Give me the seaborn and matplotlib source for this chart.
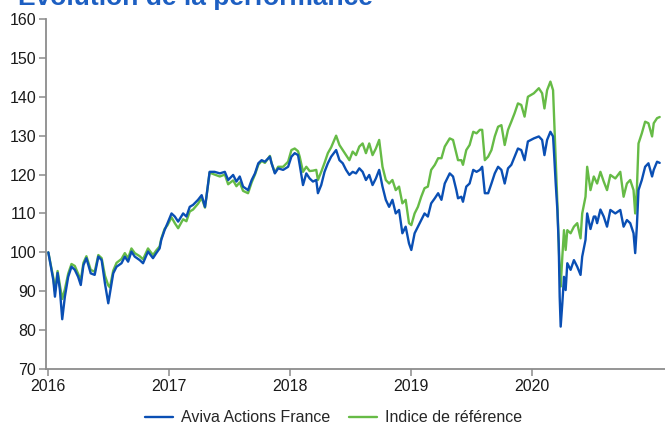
import matplotlib
matplotlib.use("Agg")
import matplotlib.pyplot as plt
import pandas as pd
import seaborn as sns

# ---- data ----
dates = [
    "2016-01-03", "2016-01-18", "2016-01-23", "2016-01-31", "2016-02-07", "2016-02-14", "2016-02-22",
    "2016-03-03", "2016-03-13", "2016-03-23", "2016-04-02", "2016-04-10", "2016-04-18", "2016-04-27",
    "2016-05-10", "2016-05-22", "2016-06-02", "2016-06-12", "2016-06-22", "2016-07-02", "2016-07-07",
    "2016-07-17", "2016-07-27", "2016-08-11", "2016-08-21", "2016-08-31", "2016-09-10", "2016-09-20",
    "2016-10-05", "2016-10-15", "2016-10-30", "2016-11-14", "2016-11-24", "2016-12-04", "2016-12-09",
    "2016-12-19", "2016-12-28",
    "2017-01-09", "2017-01-19", "2017-01-29", "2017-02-13", "2017-02-23", "2017-03-05", "2017-03-15",
    "2017-03-30", "2017-04-10", "2017-04-20", "2017-04-24", "2017-05-04", "2017-05-19", "2017-06-04",
    "2017-06-19", "2017-06-29", "2017-07-14", "2017-07-24", "2017-08-03", "2017-08-13", "2017-08-28",
    "2017-09-08", "2017-09-18", "2017-09-28", "2017-10-08", "2017-10-18", "2017-11-02", "2017-11-07",
    "2017-11-17", "2017-11-27", "2017-12-12", "2017-12-27",
    "2018-01-06", "2018-01-16", "2018-01-26", "2018-01-31", "2018-02-10", "2018-02-20", "2018-03-02",
    "2018-03-12", "2018-03-22", "2018-03-27", "2018-04-06", "2018-04-16", "2018-04-26", "2018-05-06",
    "2018-05-21", "2018-05-31", "2018-06-10", "2018-06-20", "2018-06-30", "2018-07-10", "2018-07-20",
    "2018-07-30", "2018-08-09", "2018-08-19", "2018-08-29", "2018-09-08", "2018-09-18", "2018-09-28",
    "2018-10-08", "2018-10-18", "2018-10-28", "2018-11-07", "2018-11-17", "2018-11-27", "2018-12-07",
    "2018-12-17", "2018-12-27",
    "2019-01-03", "2019-01-13", "2019-01-23", "2019-02-02", "2019-02-12", "2019-02-22", "2019-03-04",
    "2019-03-15", "2019-03-25", "2019-04-04", "2019-04-14", "2019-04-29", "2019-05-09", "2019-05-19",
    "2019-05-24", "2019-06-03", "2019-06-08", "2019-06-18", "2019-06-28", "2019-07-09", "2019-07-19",
    "2019-07-29", "2019-08-05", "2019-08-13", "2019-08-23", "2019-09-02", "2019-09-12", "2019-09-22",
    "2019-10-02", "2019-10-12", "2019-10-22", "2019-11-01", "2019-11-11", "2019-11-21", "2019-12-01",
    "2019-12-11", "2019-12-21",
    "2020-01-08", "2020-01-23", "2020-02-02", "2020-02-09", "2020-02-17", "2020-02-27", "2020-03-06",
    "2020-03-09", "2020-03-14", "2020-03-19", "2020-03-23", "2020-03-26", "2020-03-29", "2020-04-03",
    "2020-04-08", "2020-04-13", "2020-04-18", "2020-04-28", "2020-05-08", "2020-05-18", "2020-05-28",
    "2020-06-02", "2020-06-12", "2020-06-17", "2020-06-27", "2020-07-07", "2020-07-12", "2020-07-17",
    "2020-07-27", "2020-08-06", "2020-08-16", "2020-08-26", "2020-09-10", "2020-09-25", "2020-10-05",
    "2020-10-15", "2020-10-25", "2020-11-04", "2020-11-09", "2020-11-14", "2020-11-19", "2020-11-29",
    "2020-12-09", "2020-12-19", "2020-12-30", "2021-01-04", "2021-01-14", "2021-01-22",
]

aviva = [
    100.0, 92.9, 88.6, 94.7, 90.3, 82.8, 88.6,
    93.7, 96.3, 95.5, 93.7, 91.6, 96.7, 98.5,
    94.6, 94.2, 98.9, 98.0, 92.0, 86.9, 89.5,
    94.6, 96.3, 97.2, 98.9, 97.6, 100.2, 98.9,
    98.0, 97.2, 100.2, 98.5, 99.8, 101.0, 103.2,
    105.7, 107.5,
    110.0, 109.2, 107.9, 110.0, 109.2, 111.7, 112.2,
    113.5, 114.7, 111.7, 114.0, 120.7, 120.7, 120.3,
    120.7, 118.6, 119.9, 118.2, 119.5, 116.9, 116.0,
    118.6, 120.3, 122.9, 123.7, 123.3, 124.6, 122.9,
    120.3, 121.6, 121.2, 122.0,
    124.6, 125.5, 125.0, 122.5, 117.3, 120.3, 119.0,
    118.2, 118.6, 115.2, 117.3, 120.7, 122.9, 124.6,
    126.3, 123.7, 122.9, 121.2, 119.9, 120.7, 120.3,
    121.6, 120.7, 118.6, 119.9, 117.3, 119.0, 121.2,
    116.9, 113.5, 111.7, 113.5, 110.0, 110.9, 104.9,
    106.6, 102.3,
    100.6, 104.9, 106.6, 108.3, 110.0, 109.2, 112.6,
    113.9, 115.2, 113.5, 117.7, 120.3, 119.5, 116.0,
    113.9, 114.3, 113.0, 116.9, 117.7, 121.2, 120.7,
    121.2, 122.0, 115.2, 115.2, 117.7, 120.3, 122.0,
    121.2, 117.7, 121.6, 122.5, 124.6, 126.7, 126.3,
    123.7, 128.5,
    129.3, 129.8, 128.9, 125.0, 128.9, 131.0, 129.8,
    125.5, 117.7, 110.9, 102.3, 88.6, 80.9, 86.9,
    93.7, 90.3, 97.2, 95.5, 98.0, 96.3, 94.2,
    98.9, 103.2, 110.0, 106.0, 109.2, 109.2, 107.5,
    111.0, 109.2, 106.6, 110.9, 110.0, 110.9, 106.6,
    108.3, 107.5, 104.9, 99.8, 106.6, 116.0, 118.6,
    122.0, 122.9, 119.5, 121.2, 123.3, 123.0,
]

indice = [
    100.0, 93.5, 90.0, 95.2, 91.5, 88.0, 90.5,
    94.5, 97.0, 96.5, 94.5, 92.8, 97.3, 99.0,
    95.5, 95.0, 99.3, 98.5, 94.0, 91.5, 91.0,
    95.3, 97.3, 98.3, 99.8, 98.5, 101.0, 99.8,
    99.0, 98.2, 101.0, 99.3, 100.5, 101.5, 103.5,
    106.0, 107.0,
    109.0, 107.5, 106.2, 108.5, 108.0, 110.5, 111.0,
    112.5, 114.0, 111.5, 114.0, 120.5, 120.0, 119.5,
    120.0, 117.5, 118.5, 117.0, 118.0, 115.8, 115.2,
    118.0, 120.0, 122.5, 123.5, 123.0, 124.8, 123.0,
    120.5, 122.0, 122.0, 123.3,
    126.3, 126.7, 126.0, 124.6, 120.7, 122.0, 120.9,
    121.0, 121.2, 118.6, 120.7, 123.0, 125.5, 127.0,
    130.0, 127.6, 126.3, 125.0, 123.7, 125.9, 125.0,
    127.2, 128.0, 125.5, 128.0, 125.0, 126.7, 128.9,
    122.0, 118.6, 117.7, 118.6, 116.0, 116.9, 112.6,
    113.5, 107.5,
    107.0, 110.0, 111.7, 114.3, 116.5, 116.9, 121.2,
    122.5, 124.2, 124.2, 127.2, 129.3, 128.9, 125.5,
    123.7, 123.7, 122.5, 126.3, 127.6, 131.0, 130.6,
    131.5, 131.5, 123.7, 124.6, 126.3, 129.8, 132.3,
    132.7, 127.6, 131.5, 133.6, 135.8, 138.3, 137.9,
    134.9, 140.0,
    140.9, 142.2, 140.9, 137.0, 141.7, 143.9, 141.7,
    134.9, 122.9, 112.6, 102.3, 95.5, 91.2, 98.9,
    105.7, 100.6, 105.7, 104.9, 106.6, 107.5, 103.6,
    110.0, 114.3, 122.0, 116.0, 119.5, 118.6, 117.7,
    120.7, 118.2, 116.0, 119.9, 119.0, 120.7, 114.3,
    117.7, 118.6, 116.0, 110.0, 116.0, 128.0, 130.6,
    133.6, 133.2, 129.8, 133.2, 134.5, 134.8,
]

series_names = ["Aviva Actions France", "Indice de référence"]
series_colors = ["#0a4fb4", "#66bb46"]
year_ticks = ["2016-01-01", "2017-01-01", "2018-01-01", "2019-01-01", "2020-01-01"]
year_labels = ["2016", "2017", "2018", "2019", "2020"]
y_ticks = [70, 80, 90, 100, 110, 120, 130, 140, 150, 160]
title = "Evolution de la performance"

# ---- build table ----
df = pd.DataFrame({"date": pd.to_datetime(dates),
                   series_names[0]: aviva,
                   series_names[1]: indice})
long = df.melt(id_vars="date", var_name="serie", value_name="valeur")

sns.set_style("white")
plt.rcParams["font.family"] = ["Liberation Sans", "DejaVu Sans"]

W, H = 665, 428
fig = plt.figure(figsize=(W / 100, H / 100), dpi=100)
ax = fig.add_axes([46 / W, 59 / H, 619 / W, 350 / H])

palette = dict(zip(series_names, series_colors))
sns.lineplot(data=long, x="date", y="valeur", hue="serie",
             hue_order=[series_names[1], series_names[0]],
             palette=palette, linewidth=1.7, ax=ax, estimator=None)

handles, labels = ax.get_legend_handles_labels()
order = [labels.index(n) for n in series_names]
ax.get_legend().remove()
fig.legend([handles[i] for i in order], [labels[i] for i in order],
           loc="center", bbox_to_anchor=(0.502, 0.024), ncol=2, frameon=False,
           fontsize=11.5, handlelength=1.75, handletextpad=0.5, columnspacing=1.2)

ax.set_ylim(70, 160)
ax.set_yticks(y_ticks)
ax.set_xlim(pd.Timestamp("2015-12-27"), pd.Timestamp("2021-02-07"))
ax.set_xticks(pd.to_datetime(year_ticks))
ax.set_xticklabels(year_labels)
ax.set_xlabel("")
ax.set_ylabel("")

for s in ["top", "right"]:
    ax.spines[s].set_visible(False)
for s in ["left", "bottom"]:
    ax.spines[s].set_color("#8c8c8c")
    ax.spines[s].set_linewidth(1.3)

ax.tick_params(axis="both", which="major", bottom=True, left=True, direction="out",
               length=5, width=1.1, color="#8c8c8c", labelsize=11.5,
               labelcolor="#1a1a1a", pad=2)

fig.text(18 / W, 1 - 5 / H, title, fontsize=19, fontweight="bold",
         color="#1d5fc2", ha="left", va="baseline")

fig.savefig("out.png", dpi=100)
